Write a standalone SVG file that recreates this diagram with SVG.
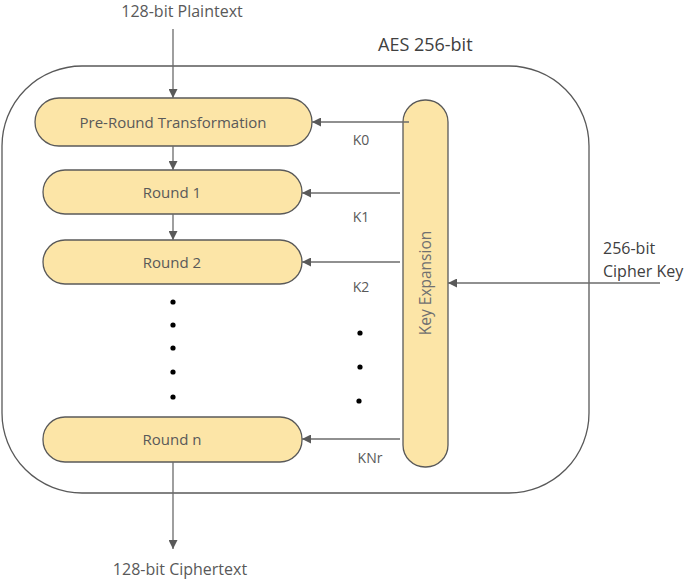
<svg xmlns="http://www.w3.org/2000/svg" width="685" height="579" viewBox="0 0 685 579">
<defs>
<marker id="ah" viewBox="0 0 10 10" refX="10" refY="5" markerWidth="9" markerHeight="9" markerUnits="userSpaceOnUse" orient="auto">
<path d="M0,0 L10,5 L0,10 z" fill="#595959"/>
</marker>
<style>
.box{fill:#FCE5A7;stroke:#595959;stroke-width:1.3}
.t{font-family:"Open Sans","Liberation Sans",sans-serif;font-size:15px;fill:#595959;text-anchor:middle}
.k{font-family:"Open Sans","Liberation Sans",sans-serif;font-size:14px;fill:#595959;text-anchor:middle}
.l{font-family:"Open Sans","Liberation Sans",sans-serif;font-size:16px;fill:#404040}
.c{stroke:#6b6b6b;stroke-width:1.3;fill:none;marker-end:url(#ah)}
.d{fill:#000}
</style>
</defs>
<rect width="685" height="579" fill="#fff"/>
<g id="aes">
<rect x="2" y="66" width="587" height="427" rx="80" ry="80" fill="none" stroke="#595959" stroke-width="1.3"/>
<text class="l" x="378" y="51" style="font-size:18px">AES 256-bit</text>
</g>
<g id="preround"><rect class="box" x="35" y="98" width="277" height="48" rx="24"/><text class="t" x="173" y="128">Pre-Round Transformation</text></g>
<g id="round1"><rect class="box" x="43" y="170" width="259" height="44" rx="22"/><text class="t" x="172" y="198">Round 1</text></g>
<g id="round2"><rect class="box" x="43" y="240" width="259" height="44" rx="22"/><text class="t" x="172" y="268">Round 2</text></g>
<g id="roundn"><rect class="box" x="43" y="417" width="259" height="45" rx="22"/><text class="t" x="172" y="445">Round n</text></g>
<g id="keyexp"><rect class="box" x="403" y="100" width="45" height="367" rx="22"/><text class="t" x="0" y="0" transform="translate(431,283) rotate(-90)" style="font-size:15.5px;fill:#707070">Key Expansion</text></g>
<g id="dots">
<circle class="d" cx="173" cy="302" r="2.6"/><circle class="d" cx="173" cy="325" r="2.6"/><circle class="d" cx="173" cy="348" r="2.6"/><circle class="d" cx="173" cy="372" r="2.6"/><circle class="d" cx="173" cy="397" r="2.6"/>
<circle class="d" cx="360" cy="333" r="2.6"/><circle class="d" cx="360" cy="367" r="2.6"/><circle class="d" cx="359" cy="401" r="2.6"/>
</g>
<g id="labels">
<text class="t" x="182" y="17" style="font-size:16px">128-bit Plaintext</text>
<text class="t" x="180" y="575" style="font-size:16px">128-bit Ciphertext</text>
<text class="l" x="603" y="254">256-bit</text>
<text class="l" x="603" y="277">Cipher Key</text>
<text class="k" x="361" y="145">K0</text>
<text class="k" x="361" y="222">K1</text>
<text class="k" x="361" y="292">K2</text>
<text class="k" x="370" y="463">KNr</text>
</g>
<g id="connectors">
<line class="c" x1="173" y1="29" x2="173" y2="98"/>
<line class="c" x1="173" y1="146" x2="173" y2="170"/>
<line class="c" x1="173" y1="214" x2="173" y2="240"/>
<line class="c" x1="173" y1="462" x2="173" y2="549"/>
<line class="c" x1="409" y1="122" x2="312" y2="122"/>
<line class="c" x1="400" y1="193" x2="302" y2="193"/>
<line class="c" x1="400" y1="262" x2="302" y2="262"/>
<line class="c" x1="400" y1="439" x2="302" y2="439"/>
<line class="c" x1="660" y1="283" x2="448" y2="283"/>
</g>
</svg>
